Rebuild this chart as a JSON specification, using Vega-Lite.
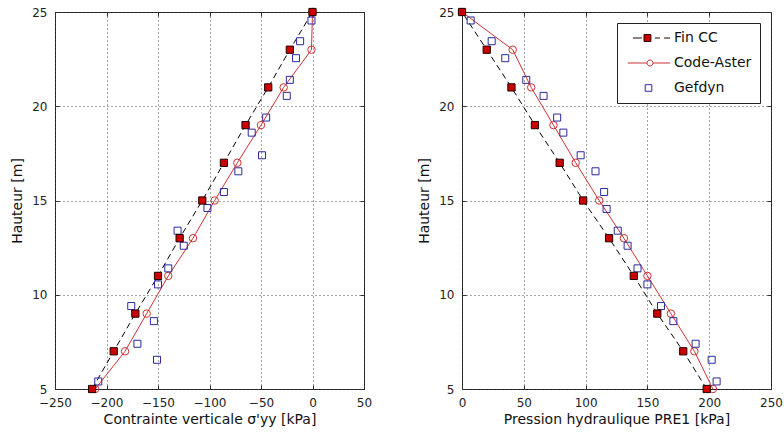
{
  "$schema": "https://vega.github.io/schema/vega-lite/v6.json",
  "background": "white",
  "padding": {"left": 10, "top": 5, "right": 5, "bottom": 5},
  "spacing": 98,
  "bounds": "flush",
  "datasets": {
    "left": [
      {"series": "Code-Aster", "x": 0, "y": 25},
      {"series": "Code-Aster", "x": -1, "y": 23},
      {"series": "Code-Aster", "x": -28, "y": 21},
      {"series": "Code-Aster", "x": -50, "y": 19},
      {"series": "Code-Aster", "x": -73, "y": 17},
      {"series": "Code-Aster", "x": -95, "y": 15},
      {"series": "Code-Aster", "x": -116, "y": 13},
      {"series": "Code-Aster", "x": -140, "y": 11},
      {"series": "Code-Aster", "x": -161, "y": 9},
      {"series": "Code-Aster", "x": -182, "y": 7},
      {"series": "Code-Aster", "x": -211, "y": 5},
      {"series": "Gefdyn", "x": -1, "y": 24.55},
      {"series": "Gefdyn", "x": -12, "y": 23.45},
      {"series": "Gefdyn", "x": -16, "y": 22.55},
      {"series": "Gefdyn", "x": -22, "y": 21.4},
      {"series": "Gefdyn", "x": -25, "y": 20.55},
      {"series": "Gefdyn", "x": -45, "y": 19.4},
      {"series": "Gefdyn", "x": -59, "y": 18.6},
      {"series": "Gefdyn", "x": -49, "y": 17.4},
      {"series": "Gefdyn", "x": -72, "y": 16.55},
      {"series": "Gefdyn", "x": -86, "y": 15.45},
      {"series": "Gefdyn", "x": -102, "y": 14.6},
      {"series": "Gefdyn", "x": -131, "y": 13.4},
      {"series": "Gefdyn", "x": -125, "y": 12.6},
      {"series": "Gefdyn", "x": -140, "y": 11.4},
      {"series": "Gefdyn", "x": -150, "y": 10.55},
      {"series": "Gefdyn", "x": -176, "y": 9.4},
      {"series": "Gefdyn", "x": -154, "y": 8.6},
      {"series": "Gefdyn", "x": -170, "y": 7.4},
      {"series": "Gefdyn", "x": -151, "y": 6.55},
      {"series": "Gefdyn", "x": -208, "y": 5.4},
      {"series": "Fin CC", "x": 0, "y": 25},
      {"series": "Fin CC", "x": -22, "y": 23},
      {"series": "Fin CC", "x": -43, "y": 21},
      {"series": "Fin CC", "x": -65, "y": 19},
      {"series": "Fin CC", "x": -86, "y": 17},
      {"series": "Fin CC", "x": -107, "y": 15},
      {"series": "Fin CC", "x": -129, "y": 13},
      {"series": "Fin CC", "x": -150, "y": 11},
      {"series": "Fin CC", "x": -172, "y": 9},
      {"series": "Fin CC", "x": -193, "y": 7},
      {"series": "Fin CC", "x": -214, "y": 5}
    ],
    "right": [
      {"series": "Code-Aster", "x": 0, "y": 25},
      {"series": "Code-Aster", "x": 41, "y": 23},
      {"series": "Code-Aster", "x": 56, "y": 21},
      {"series": "Code-Aster", "x": 74, "y": 19},
      {"series": "Code-Aster", "x": 92, "y": 17},
      {"series": "Code-Aster", "x": 111, "y": 15},
      {"series": "Code-Aster", "x": 131, "y": 13},
      {"series": "Code-Aster", "x": 150, "y": 11},
      {"series": "Code-Aster", "x": 169, "y": 9},
      {"series": "Code-Aster", "x": 188, "y": 7},
      {"series": "Code-Aster", "x": 203, "y": 5},
      {"series": "Gefdyn", "x": 7, "y": 24.55},
      {"series": "Gefdyn", "x": 24, "y": 23.45},
      {"series": "Gefdyn", "x": 35, "y": 22.55},
      {"series": "Gefdyn", "x": 52, "y": 21.4},
      {"series": "Gefdyn", "x": 66, "y": 20.55},
      {"series": "Gefdyn", "x": 77, "y": 19.4},
      {"series": "Gefdyn", "x": 82, "y": 18.6},
      {"series": "Gefdyn", "x": 96, "y": 17.4},
      {"series": "Gefdyn", "x": 108, "y": 16.55},
      {"series": "Gefdyn", "x": 115, "y": 15.45},
      {"series": "Gefdyn", "x": 117, "y": 14.55},
      {"series": "Gefdyn", "x": 126, "y": 13.4},
      {"series": "Gefdyn", "x": 134, "y": 12.6},
      {"series": "Gefdyn", "x": 142, "y": 11.4},
      {"series": "Gefdyn", "x": 150, "y": 10.55},
      {"series": "Gefdyn", "x": 161, "y": 9.4},
      {"series": "Gefdyn", "x": 171, "y": 8.6},
      {"series": "Gefdyn", "x": 189, "y": 7.4},
      {"series": "Gefdyn", "x": 202, "y": 6.55},
      {"series": "Gefdyn", "x": 206, "y": 5.4},
      {"series": "Fin CC", "x": 0, "y": 25},
      {"series": "Fin CC", "x": 20, "y": 23},
      {"series": "Fin CC", "x": 40, "y": 21},
      {"series": "Fin CC", "x": 59, "y": 19},
      {"series": "Fin CC", "x": 79, "y": 17},
      {"series": "Fin CC", "x": 98, "y": 15},
      {"series": "Fin CC", "x": 119, "y": 13},
      {"series": "Fin CC", "x": 139, "y": 11},
      {"series": "Fin CC", "x": 158, "y": 9},
      {"series": "Fin CC", "x": 179, "y": 7},
      {"series": "Fin CC", "x": 198, "y": 5}
    ]
  },
  "hconcat": [
    {
      "width": 309,
      "height": 377,
      "data": {"name": "left"},
      "layer": [
        {
          "transform": [{"filter": "datum.series === 'Fin CC'"}],
          "mark": {"type": "line", "color": "#000000", "strokeWidth": 1, "strokeDash": [6, 4]},
          "encoding": {
            "x": {"field": "x", "type": "quantitative", "scale": {"domain": [-250, 50], "nice": false, "zero": false},
                  "axis": {"title": "Contrainte verticale σ'yy [kPa]", "values": [-250, -200, -150, -100, -50, 0, 50], "grid": true, "orient": "bottom"}},
            "y": {"field": "y", "type": "quantitative", "scale": {"domain": [5, 25], "nice": false, "zero": false},
                  "axis": {"title": "Hauteur [m]", "values": [5, 10, 15, 20, 25], "grid": true, "orient": "left"}},
            "order": {"field": "y", "type": "quantitative"}
          }
        },
        {
          "transform": [{"filter": "datum.series === 'Code-Aster'"}],
          "mark": {"type": "line", "color": "#cc3333", "strokeWidth": 1},
          "encoding": {
            "x": {"field": "x", "type": "quantitative",
                  "axis": {"title": null, "labels": false, "grid": false, "orient": "top", "values": [-250, -200, -150, -100, -50, 0, 50]}},
            "y": {"field": "y", "type": "quantitative",
                  "axis": {"title": null, "labels": false, "grid": false, "orient": "right", "values": [5, 10, 15, 20, 25]}},
            "order": {"field": "y", "type": "quantitative"}
          }
        },
        {
          "mark": {"type": "point", "filled": true, "strokeWidth": 1, "opacity": 1},
          "encoding": {
            "x": {"field": "x", "type": "quantitative", "axis": null},
            "y": {"field": "y", "type": "quantitative", "axis": null},
            "shape": {"field": "series", "type": "nominal", "scale": {"domain": ["Fin CC", "Code-Aster", "Gefdyn"], "range": ["square", "circle", "square"]}, "legend": null},
            "fill": {"field": "series", "type": "nominal", "scale": {"domain": ["Fin CC", "Code-Aster", "Gefdyn"], "range": ["#cc0000", "transparent", "transparent"]}, "legend": null},
            "stroke": {"field": "series", "type": "nominal", "scale": {"domain": ["Fin CC", "Code-Aster", "Gefdyn"], "range": ["#220000", "#cc3333", "#2a2aa0"]}, "legend": null},
            "size": {"field": "series", "type": "nominal", "scale": {"domain": ["Gefdyn", "Fin CC", "Code-Aster"], "range": [49, 56, 40]}, "legend": null}
          }
        }
      ],
      "resolve": {"axis": {"x": "independent", "y": "independent"}}
    },
    {
      "width": 309,
      "height": 377,
      "data": {"name": "right"},
      "layer": [
        {
          "transform": [{"filter": "datum.series === 'Fin CC'"}],
          "mark": {"type": "line", "color": "#000000", "strokeWidth": 1, "strokeDash": [6, 4]},
          "encoding": {
            "x": {"field": "x", "type": "quantitative", "scale": {"domain": [0, 250], "nice": false, "zero": false},
                  "axis": {"title": "Pression hydraulique PRE1 [kPa]", "values": [0, 50, 100, 150, 200, 250], "grid": true, "orient": "bottom"}},
            "y": {"field": "y", "type": "quantitative", "scale": {"domain": [5, 25], "nice": false, "zero": false},
                  "axis": {"title": "Hauteur [m]", "values": [5, 10, 15, 20, 25], "grid": true, "orient": "left"}},
            "order": {"field": "y", "type": "quantitative"}
          }
        },
        {
          "transform": [{"filter": "datum.series === 'Code-Aster'"}],
          "mark": {"type": "line", "color": "#cc3333", "strokeWidth": 1},
          "encoding": {
            "x": {"field": "x", "type": "quantitative",
                  "axis": {"title": null, "labels": false, "grid": false, "orient": "top", "values": [0, 50, 100, 150, 200, 250]}},
            "y": {"field": "y", "type": "quantitative",
                  "axis": {"title": null, "labels": false, "grid": false, "orient": "right", "values": [5, 10, 15, 20, 25]}},
            "order": {"field": "y", "type": "quantitative"}
          }
        },
        {
          "mark": {"type": "point", "filled": true, "strokeWidth": 1, "opacity": 1},
          "encoding": {
            "x": {"field": "x", "type": "quantitative", "axis": null},
            "y": {"field": "y", "type": "quantitative", "axis": null},
            "shape": {"field": "series", "type": "nominal", "scale": {"domain": ["Fin CC", "Code-Aster", "Gefdyn"], "range": ["square", "circle", "square"]}, "legend": null},
            "fill": {"field": "series", "type": "nominal", "scale": {"domain": ["Fin CC", "Code-Aster", "Gefdyn"], "range": ["#cc0000", "transparent", "transparent"]}, "legend": null},
            "stroke": {"field": "series", "type": "nominal", "scale": {"domain": ["Fin CC", "Code-Aster", "Gefdyn"], "range": ["#220000", "#cc3333", "#2a2aa0"]}, "legend": null},
            "size": {"field": "series", "type": "nominal", "scale": {"domain": ["Gefdyn", "Fin CC", "Code-Aster"], "range": [49, 56, 40]}, "legend": null}
          }
        },
        {
          "transform": [{"filter": "false"}],
          "mark": {"type": "point", "filled": true, "strokeWidth": 1, "opacity": 1},
          "encoding": {
            "x": {"field": "x", "type": "quantitative", "axis": null},
            "y": {"field": "y", "type": "quantitative", "axis": null},
            "shape": {"field": "series", "type": "nominal",
                      "scale": {"domain": ["Fin CC", "Code-Aster", "Gefdyn"], "range": ["M0.3,0H3.3M7.6,0H9.3M10.7,0H12.7M4,-1.15H6.3V1.15H4Z", "M-1.4,0H5M7,0H12.7M5,0A1,1 0 1,1 7,0A1,1 0 1,1 5,0Z", "M4.4,-1.1H6.6V1.1H4.4Z"]},
                      "legend": {
                        "title": null, "orient": "top-right", "offset": 11, "padding": 8,
                        "strokeColor": "#222222", "fillColor": "white",
                        "labelFont": "DejaVu Sans", "labelFontSize": 14, "labelColor": "#111111", "labelAlign": "left",
                        "labelOffset": 35, "rowPadding": 11, "symbolSize": 36, "symbolStrokeWidth": 1, "symbolOpacity": 1
                      }},
            "fill": {"field": "series", "type": "nominal", "scale": {"domain": ["Fin CC", "Code-Aster", "Gefdyn"], "range": ["#cc0000", "transparent", "transparent"]},
                      "legend": {
                        "title": null, "orient": "top-right", "offset": 11, "padding": 8,
                        "strokeColor": "#222222", "fillColor": "white",
                        "labelFont": "DejaVu Sans", "labelFontSize": 14, "labelColor": "#111111", "labelAlign": "left",
                        "labelOffset": 35, "rowPadding": 11, "symbolSize": 36, "symbolStrokeWidth": 1, "symbolOpacity": 1
                      }},
            "stroke": {"field": "series", "type": "nominal", "scale": {"domain": ["Fin CC", "Code-Aster", "Gefdyn"], "range": ["#220000", "#cc3333", "#2a2aa0"]},
                      "legend": {
                        "title": null, "orient": "top-right", "offset": 11, "padding": 8,
                        "strokeColor": "#222222", "fillColor": "white",
                        "labelFont": "DejaVu Sans", "labelFontSize": 14, "labelColor": "#111111", "labelAlign": "left",
                        "labelOffset": 35, "rowPadding": 11, "symbolSize": 36, "symbolStrokeWidth": 1, "symbolOpacity": 1
                      }}
          }
        }
      ],
      "resolve": {
        "axis": {"x": "independent", "y": "independent"},
        "scale": {"shape": "independent", "fill": "independent", "stroke": "independent", "size": "independent"},
        "legend": {"shape": "independent", "fill": "independent", "stroke": "independent", "size": "independent"}
      }
    }
  ],
  "resolve": {"scale": {"shape": "independent", "fill": "independent", "stroke": "independent", "size": "independent"}, "legend": {"shape": "independent", "fill": "independent", "stroke": "independent", "size": "independent"}},
  "config": {
    "font": "DejaVu Sans",
    "view": {"stroke": "#333333", "strokeWidth": 1},
    "axis": {
      "domain": false,
      "labelFont": "DejaVu Sans",
      "labelFontSize": 12,
      "labelColor": "#222222",
      "labelFlush": false,
      "labelPadding": 12,
      "titleFont": "DejaVu Sans",
      "titleFontSize": 14,
      "titleFontWeight": "normal",
      "titleColor": "#111111",
      "titlePadding": 4,
      "tickColor": "#333333",
      "tickSize": -4,
      "gridColor": "#000000",
      "gridDash": [1, 3],
      "gridOpacity": 0.7
    },
    "axisY": {"titlePadding": 7}
  }
}
